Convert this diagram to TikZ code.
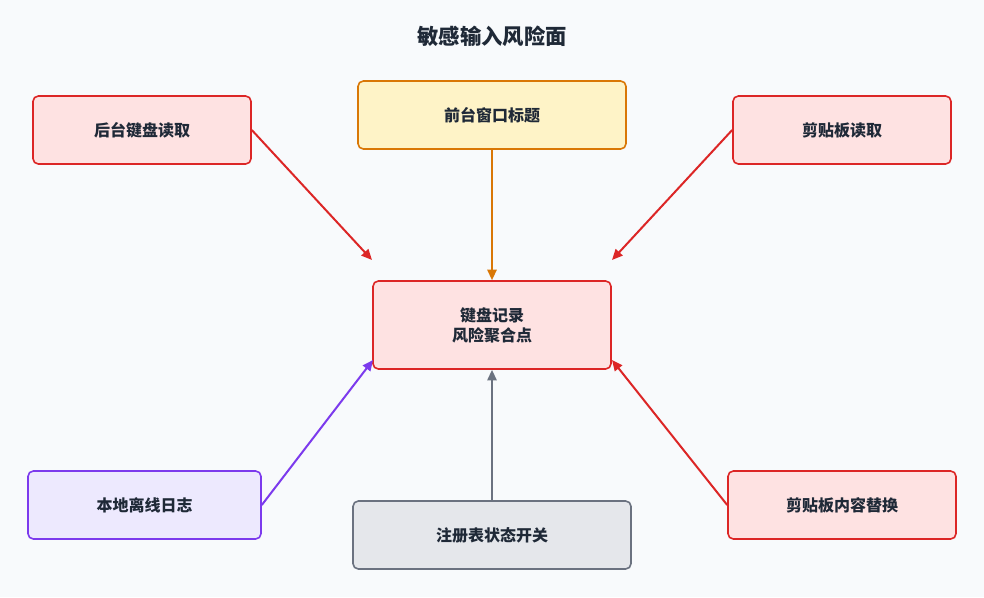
\documentclass[tikz,border=0pt]{standalone}
\usepackage{fontspec}
\setmainfont{Noto Sans CJK SC}
\usetikzlibrary{arrows.meta}
\definecolor{bgc}{HTML}{F8FAFC}
\definecolor{txt}{HTML}{1F2937}
\definecolor{redf}{HTML}{FEE2E2}
\definecolor{redd}{HTML}{DC2626}
\definecolor{oraf}{HTML}{FEF3C7}
\definecolor{orad}{HTML}{D97706}
\definecolor{purf}{HTML}{EDE9FE}
\definecolor{purd}{HTML}{7C3AED}
\definecolor{gryf}{HTML}{E5E7EB}
\definecolor{gryd}{HTML}{6B7280}
\tikzset{
  box/.style={draw, rounded corners=4pt, line width=1.2pt, text=txt,
    font=\fontsize{12}{15}\selectfont\bfseries, align=center, inner sep=0pt},
  arr/.style={line width=1.5pt, -{Triangle[length=8pt,width=7pt]}}
}
\begin{document}
\begin{tikzpicture}[x=0.75pt,y=-0.75pt]
  \fill[bgc] (0,0) rectangle (984,597);
  \useasboundingbox (0,0) rectangle (984,597);
  \node[text=txt, font=\fontsize{16}{19}\selectfont\bfseries] (title) at (492,36) {敏感输入风险面};

  \node[box, fill=redf, draw=redd, minimum width=163.5pt, minimum height=51pt] (kbd) at (142,130) {后台键盘读取};
  \node[box, fill=oraf, draw=orad, minimum width=201pt, minimum height=51pt] (win) at (492,115) {前台窗口标题};
  \node[box, fill=redf, draw=redd, minimum width=163.5pt, minimum height=51pt] (clip) at (842,130) {剪贴板读取};
  \node[box, fill=redf, draw=redd, minimum width=178.5pt, minimum height=66pt] (core) at (492,325) {键盘记录\\风险聚合点};
  \node[box, fill=purf, draw=purd, minimum width=174.75pt, minimum height=51pt] (log) at (144.5,505) {本地离线日志};
  \node[box, fill=gryf, draw=gryd, minimum width=208.5pt, minimum height=51pt] (reg) at (492,535) {注册表状态开关};
  \node[box, fill=redf, draw=redd, minimum width=171pt, minimum height=51pt] (swap) at (842,505) {剪贴板内容替换};

  \coordinate (c1) at (372,260);
  \coordinate (c2) at (612,260);
  \coordinate (c3) at (373,360);
  \coordinate (c4) at (612,360);

  \draw[arr, redd] (kbd.east) -- (c1);
  \draw[arr, orad] (win.south) -- (core.north);
  \draw[arr, redd] (clip.west) -- (c2);
  \draw[arr, purd] (log.east) -- (c3);
  \draw[arr, gryd] (reg.north) -- (core.south);
  \draw[arr, redd] (swap.west) -- (c4);
\end{tikzpicture}
\end{document}
